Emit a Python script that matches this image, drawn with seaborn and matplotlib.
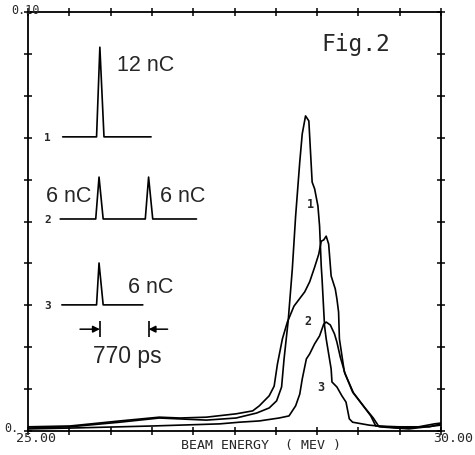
import numpy as np
import pandas as pd
import matplotlib
matplotlib.use("Agg")
import matplotlib.pyplot as plt
import seaborn as sns

# ---- data ----
e1 = [25.00, 25.51, 26.11, 26.59, 27.16, 27.52, 27.77, 27.92, 28.01, 28.07, 28.10, 28.15,
      28.20, 28.24, 28.29, 28.32, 28.36, 28.40, 28.44, 28.47, 28.51, 28.53, 28.55, 28.56,
      28.59, 28.61, 28.67, 28.68, 28.74, 28.80, 28.85, 28.89, 28.93, 29.13, 29.49, 29.73,
      29.92, 30.00]
v1 = [0.0007, 0.0010, 0.0021, 0.0031, 0.0026, 0.0031, 0.0043, 0.0055, 0.0072, 0.0105, 0.0172,
      0.0263, 0.0387, 0.0513, 0.0642, 0.0709, 0.0752, 0.0740, 0.0594, 0.0578, 0.0537, 0.0489,
      0.0394, 0.0363, 0.0251, 0.0220, 0.0148, 0.0117, 0.0105, 0.0084, 0.0069, 0.0029, 0.0021,
      0.0014, 0.0007, 0.0010, 0.0017, 0.0019]

e2 = [25.00, 25.51, 26.11, 26.59, 26.84, 27.16, 27.52, 27.72, 27.80, 27.92, 27.98, 28.02,
      28.08, 28.14, 28.22, 28.35, 28.41, 28.47, 28.52, 28.55, 28.58, 28.61, 28.64, 28.67,
      28.72, 28.74, 28.76, 28.77, 28.83, 28.93, 29.07, 29.15, 29.21, 29.49, 29.86, 30.00]
v2 = [0.0010, 0.0012, 0.0024, 0.0033, 0.0031, 0.0033, 0.0041, 0.0048, 0.0060, 0.0084, 0.0107,
      0.0160, 0.0220, 0.0260, 0.0298, 0.0332, 0.0356, 0.0391, 0.0422, 0.0453, 0.0456, 0.0465,
      0.0446, 0.0370, 0.0339, 0.0315, 0.0284, 0.0220, 0.0141, 0.0093, 0.0057, 0.0036, 0.0012,
      0.0010, 0.0010, 0.0017]

e3 = [25.00, 25.51, 26.51, 27.32, 27.56, 27.80, 28.04, 28.16, 28.24, 28.29, 28.32, 28.37,
      28.41, 28.47, 28.53, 28.58, 28.61, 28.66, 28.71, 28.74, 28.78, 28.84, 28.94, 29.08,
      29.18, 29.25, 29.61, 30.00]
v3 = [0.0005, 0.0007, 0.0012, 0.0017, 0.0021, 0.0024, 0.0031, 0.0036, 0.0060, 0.0088, 0.0124,
      0.0172, 0.0184, 0.0208, 0.0227, 0.0255, 0.0260, 0.0253, 0.0232, 0.0212, 0.0177, 0.0136,
      0.0091, 0.0055, 0.0031, 0.0010, 0.0005, 0.0014]

curve_names = ["1", "2", "3"]
curve_label_pos = [(28.42, 0.0544), (28.39, 0.0263), (28.55, 0.0107)]

# inset pulse schematics
pulse1_e = [25.42, 25.83, 25.87, 25.92, 26.49]
pulse1_v = [0.0702, 0.0702, 0.0916, 0.0702, 0.0702]
pulse2_e = [25.39, 25.82, 25.86, 25.91, 26.42, 26.46, 26.51, 27.04]
pulse2_v = [0.0506, 0.0506, 0.0606, 0.0506, 0.0506, 0.0606, 0.0506, 0.0506]
pulse3_e = [25.41, 25.83, 25.86, 25.91, 26.39]
pulse3_v = [0.0301, 0.0301, 0.0401, 0.0301, 0.0301]
charge_texts = ["12 nC", "6 nC", "6 nC", "6 nC"]
charge_pos = [(26.425, 0.0874), (25.489, 0.0561), (26.878, 0.0561), (26.486, 0.0344)]
spacing_text = "770 ps"
spacing_pos = (26.208, 0.0179)
marker_e = [25.87, 26.46]

xticks = np.arange(25.0, 30.01, 0.5)
yticks = np.arange(0.0, 0.1001, 0.01)
xlim = (25.0, 30.0)
ylim = (0.0, 0.10)

df = pd.concat([
    pd.DataFrame({"energy": e1, "signal": v1, "curve": "1"}),
    pd.DataFrame({"energy": e2, "signal": v2, "curve": "2"}),
    pd.DataFrame({"energy": e3, "signal": v3, "curve": "3"}),
], ignore_index=True)

# ---- figure ----
sns.set_style("ticks")
W, H = 475, 456
fig = plt.figure(figsize=(W / 100, H / 100), dpi=100)
ax = fig.add_axes([28 / W, 1 - 432 / H, (441 - 28) / W, (432 - 13) / H])

sns.lineplot(data=df, x="energy", y="signal", hue="curve", units="curve",
             estimator=None, sort=False, palette=["black"] * 3, linewidth=1.2,
             legend=False, ax=ax)

ax.set_xlim(*xlim)
ax.set_ylim(*ylim)
ax.set_xticks(xticks)
ax.set_yticks(yticks)
ax.set_xticklabels([])
ax.set_yticklabels([])
ax.set_xlabel("")
ax.set_ylabel("")
for s in ax.spines.values():
    s.set_visible(True)
    s.set_linewidth(1.3)
    s.set_color("black")
ax.tick_params(direction="inout", length=5.5, width=1.1, color="black",
               top=True, right=True, bottom=True, left=True)

# curve labels
for name, (xe, yv) in zip(curve_names, curve_label_pos):
    ax.text(xe, yv, name, ha="center", va="center", fontsize=8.5,
            fontweight="bold", family="DejaVu Sans Mono")

# insets
for pe, pv, lab in [(pulse1_e, pulse1_v, "1"), (pulse2_e, pulse2_v, "2"), (pulse3_e, pulse3_v, "3")]:
    ax.plot(pe, pv, color="black", linewidth=1.2)
    ax.text(25.24, pv[0], lab, ha="center", va="center", fontsize=8,
            fontweight="bold", family="DejaVu Sans Mono")

for t, (xe, yv) in zip(charge_texts, charge_pos):
    ax.text(xe, yv, t, ha="center", va="center", fontsize=15.5, family="Liberation Sans")
ax.text(spacing_pos[0], spacing_pos[1], spacing_text, ha="center", va="center",
        fontsize=16.5, family="Liberation Sans")

# spacing markers  ->|   |<-
ax.vlines(marker_e, 0.0224, 0.0263, color="black", linewidth=1.2)
ax.annotate("", xy=(marker_e[0], 0.0243), xytext=(25.63, 0.0243),
            arrowprops=dict(arrowstyle="-|>", color="black", lw=1.1, shrinkA=0, shrinkB=0))
ax.annotate("", xy=(marker_e[1], 0.0243), xytext=(26.69, 0.0243),
            arrowprops=dict(arrowstyle="-|>", color="black", lw=1.1, shrinkA=0, shrinkB=0))

ax.text(28.973, 0.0924, "Fig.2", ha="center", va="center", fontsize=16.5,
        family="DejaVu Sans Mono")

# axis annotations (plotter style)
def px(x, y):
    return x / W, 1 - y / H

mono = "DejaVu Sans Mono"
fig.text(*px(26, 11), "0.10", ha="center", va="center", fontsize=8.5, family=mono)
fig.text(*px(11, 429), "0.", ha="center", va="center", fontsize=8.5, family=mono)
fig.text(*px(36, 439), "25.00", ha="center", va="center", fontsize=9.5, family=mono)
fig.text(*px(453, 439), "30.00", ha="center", va="center", fontsize=9.5, family=mono)
fig.text(*px(261, 446), "BEAM ENERGY  ( MEV )", ha="center", va="center", fontsize=9.5,
         family=mono)

fig.savefig("out.png", dpi=100)
